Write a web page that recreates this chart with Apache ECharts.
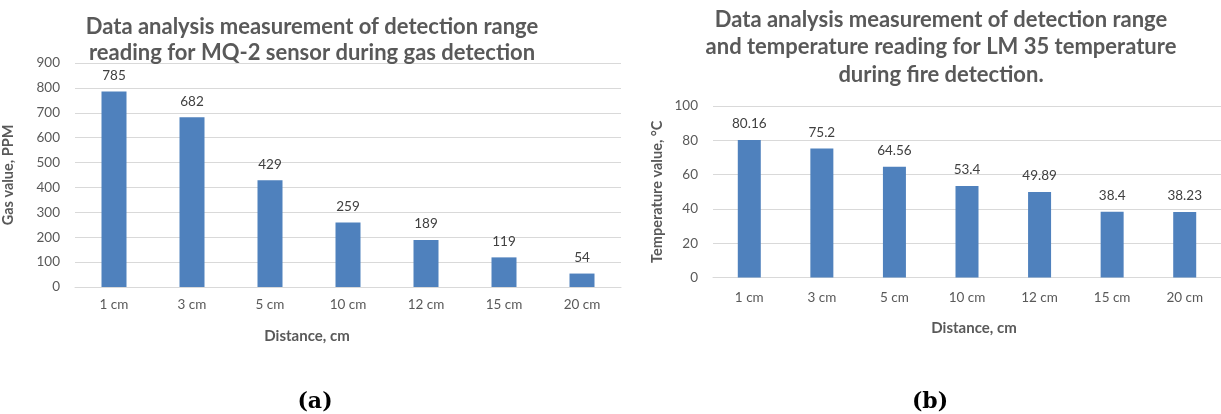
<!DOCTYPE html>
<html>
<head>
<meta charset="utf-8">
<script src="https://cdn.jsdelivr.net/npm/echarts@6/dist/echarts.min.js"></script>
<style>
html,body{margin:0;padding:0;background:#fff;}
#c{width:1221px;height:414px;}
</style>
</head>
<body>
<div id="c"></div>
<script>
// Data
const categories = ['1 cm', '3 cm', '5 cm', '10 cm', '12 cm', '15 cm', '20 cm'];
const gasValues = [785, 682, 429, 259, 189, 119, 54];
const tempValues = [80.16, 75.2, 64.56, 53.4, 49.89, 38.4, 38.23];
const titleA = 'Data analysis measurement of detection range\nreading for MQ-2 sensor during gas detection';
const titleB = 'Data analysis measurement of detection range\nand temperature reading for LM 35 temperature\nduring fire detection.';
const yNameA = 'Gas value, PPM';
const yNameB = 'Temperature value, °C';
const xName = 'Distance, cm';

const FONT = 'Lato, "Open Sans", sans-serif';
const GRAY = '#595959';
const GRID = '#D9D9D9';
const BAR = '#4F81BD';

const chart = echarts.init(document.getElementById('c'), null, {renderer: 'canvas'});

function xAxisCfg(gi, margin) {
  return {
    type: 'category', gridIndex: gi, data: categories,
    axisLine: {show: true, lineStyle: {color: GRID, width: 1}},
    axisTick: {show: false},
    axisLabel: {color: GRAY, fontFamily: FONT, fontSize: 13.5, margin: margin},
    splitLine: {show: false}
  };
}
function yAxisCfg(gi, max, interval, name, gap) {
  return {
    type: 'value', gridIndex: gi, min: 0, max: max, interval: interval,
    name: name, nameLocation: 'middle', nameRotate: 90, nameGap: gap,
    nameTextStyle: {color: GRAY, fontFamily: FONT, fontSize: 14.5, fontWeight: 'bold'},
    axisLine: {show: false}, axisTick: {show: false},
    axisLabel: {color: GRAY, fontFamily: FONT, fontSize: 13.5, margin: 15},
    splitLine: {show: true, lineStyle: {color: GRID, width: 1}}
  };
}

const option = {
  animation: false,
  backgroundColor: '#ffffff',
  title: [
    {text: titleA, left: 307, top: 9, textAlign: 'center',
     textStyle: {color: GRAY, fontFamily: FONT, fontSize: 22, fontWeight: 'bold', lineHeight: 26}},
    {text: titleB, left: 936, top: 1, textAlign: 'center',
     textStyle: {color: GRAY, fontFamily: FONT, fontSize: 22, fontWeight: 'bold', lineHeight: 27.5}},
    {text: xName, left: 302, top: 322, textAlign: 'center',
     textStyle: {color: GRAY, fontFamily: FONT, fontSize: 15, fontWeight: 'bold', lineHeight: 18}},
    {text: xName, left: 969, top: 314, textAlign: 'center',
     textStyle: {color: GRAY, fontFamily: FONT, fontSize: 15, fontWeight: 'bold', lineHeight: 18}},
    {text: '(a)', left: 310, top: 382, textAlign: 'center',
     textStyle: {color: '#000', fontFamily: '"DejaVu Serif", serif', fontSize: 22, fontWeight: 'bold', lineHeight: 30}},
    {text: '(b)', left: 925, top: 382, textAlign: 'center',
     textStyle: {color: '#000', fontFamily: '"DejaVu Serif", serif', fontSize: 22, fontWeight: 'bold', lineHeight: 30}}
  ],
  grid: [
    {left: 74, top: 63, width: 547, height: 224},
    {left: 713, top: 106, width: 512, height: 171.5}
  ],
  xAxis: [xAxisCfg(0, 11), xAxisCfg(1, 13)],
  yAxis: [yAxisCfg(0, 900, 100, yNameA, 59), yAxisCfg(1, 100, 20, yNameB, 48)],
  series: [
    {type: 'bar', xAxisIndex: 0, yAxisIndex: 0, data: gasValues, barWidth: 25,
     itemStyle: {color: BAR},
     label: {show: true, position: 'top', distance: 9, color: '#404040', fontFamily: FONT, fontSize: 13.5}},
    {type: 'bar', xAxisIndex: 1, yAxisIndex: 1, data: tempValues, barWidth: 23,
     itemStyle: {color: BAR},
     label: {show: true, position: 'top', distance: 9, color: '#404040', fontFamily: FONT, fontSize: 13.5}}
  ]
};
chart.setOption(option);
</script>
</body>
</html>
